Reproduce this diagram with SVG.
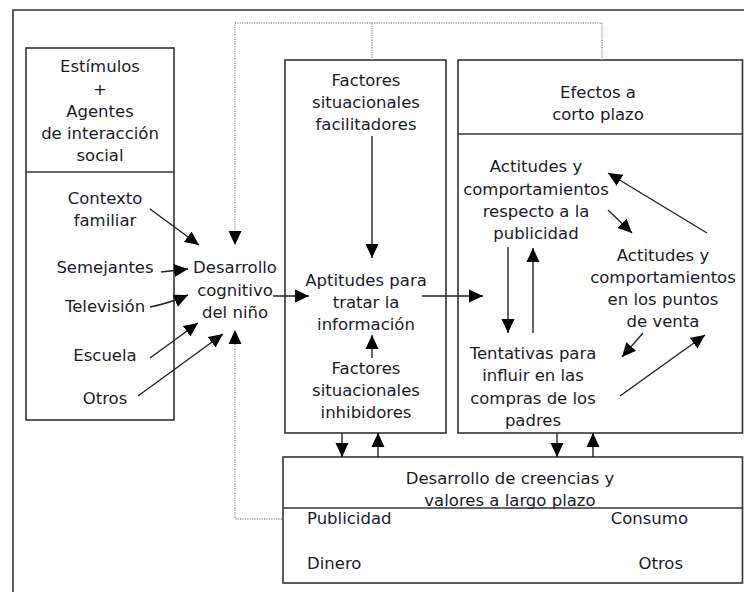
<svg xmlns="http://www.w3.org/2000/svg" width="744" height="592" viewBox="0 0 744 592">
<defs>
<marker id="ah" markerUnits="userSpaceOnUse" markerWidth="15" markerHeight="15" viewBox="0 0 15 15" refX="14" refY="7.5" orient="auto">
<path d="M0,1 L14,7.5 L0,14 Z" fill="#000"/>
</marker>
<style>
text{font-family:"DejaVu Sans","Liberation Sans",sans-serif;font-size:16.5px;fill:#1a1a2a;text-anchor:middle}
.l{text-anchor:start}.r{text-anchor:end}
.box{fill:none;stroke:#333;stroke-width:1.6}
.a{fill:none;stroke:#222;stroke-width:1.4;marker-end:url(#ah)}
.h{fill:none;stroke:none;marker-end:url(#ah)}
.d{fill:none;stroke:#999;stroke-width:1.4;stroke-dasharray:1.2 1.2}
</style>
</defs>
<rect width="744" height="592" fill="#fff"/>
<path d="M13,600 V10 H750" class="box"/>
<g id="estimulos">
<rect x="26" y="48" width="148" height="372" class="box"/>
<line x1="26" y1="172" x2="174" y2="172" class="box"/>
<text x="100" y="72">Estímulos</text>
<text x="100" y="95">+</text>
<text x="100" y="117">Agentes</text>
<text x="100" y="139">de interacción</text>
<text x="100" y="161">social</text>
<text x="105" y="204">Contexto</text>
<text x="105" y="226">familiar</text>
<text x="105" y="273">Semejantes</text>
<text x="105" y="312">Televisión</text>
<text x="105" y="361">Escuela</text>
<text x="105" y="404">Otros</text>
</g>
<g id="desarrollo-cognitivo">
<text x="235" y="273">Desarrollo</text>
<text x="235" y="296">cognitivo</text>
<text x="235" y="318">del niño</text>
</g>
<g id="factores">
<rect x="285" y="60" width="161" height="373" class="box"/>
<text x="366" y="86">Factores</text>
<text x="366" y="108">situacionales</text>
<text x="366" y="130">facilitadores</text>
<text x="366" y="286">Aptitudes para</text>
<text x="366" y="308">tratar la</text>
<text x="366" y="330">información</text>
<text x="366" y="374">Factores</text>
<text x="366" y="396">situacionales</text>
<text x="366" y="418">inhibidores</text>
</g>
<g id="efectos">
<rect x="458" y="60" width="284.5" height="373" class="box"/>
<line x1="458" y1="134" x2="742.5" y2="134" class="box"/>
<text x="598" y="98">Efectos a</text>
<text x="598" y="120">corto plazo</text>
<text x="536" y="172">Actitudes y</text>
<text x="536" y="195">comportamientos</text>
<text x="536" y="217">respecto a la</text>
<text x="536" y="239">publicidad</text>
<text x="663" y="261">Actitudes y</text>
<text x="663" y="283">comportamientos</text>
<text x="663" y="305">en los puntos</text>
<text x="663" y="327">de venta</text>
<text x="533" y="359">Tentativas para</text>
<text x="533" y="381">influir en las</text>
<text x="533" y="404">compras de los</text>
<text x="533" y="426">padres</text>
</g>
<g id="largo-plazo">
<rect x="283" y="457" width="459.5" height="126" class="box"/>
<line x1="283" y1="508" x2="742.5" y2="508" class="box"/>
<text x="510" y="484">Desarrollo de creencias y</text>
<text x="510" y="506">valores a largo plazo</text>
<text x="307" y="524" class="l">Publicidad</text>
<text x="688" y="524" class="r">Consumo</text>
<text x="307" y="569" class="l">Dinero</text>
<text x="683" y="569" class="r">Otros</text>
</g>
<g id="connectors">
<path d="M235,232 V23 H602 V60 M372,23 V60" class="d"/>
<path d="M235,344 V519 H283" class="d"/>
<line x1="235" y1="232" x2="235" y2="245" class="h"/>
<line x1="235" y1="344" x2="235" y2="330" class="h"/>
<line x1="150" y1="209" x2="199" y2="245" class="a"/>
<line x1="161" y1="272" x2="188" y2="269" class="a"/>
<path d="M150,307 Q170,303 188,295" class="a"/>
<line x1="150" y1="358" x2="198" y2="323" class="a"/>
<line x1="138" y1="396" x2="223" y2="334" class="a"/>
<line x1="273" y1="296" x2="309" y2="296" class="a"/>
<line x1="372" y1="136" x2="372" y2="258" class="a"/>
<line x1="372" y1="358" x2="372" y2="335" class="a"/>
<line x1="422" y1="296" x2="483" y2="296" class="a"/>
<line x1="508" y1="247" x2="508" y2="333" class="a"/>
<line x1="533" y1="333" x2="533" y2="248" class="a"/>
<line x1="707" y1="233" x2="608" y2="173" class="a"/>
<line x1="608" y1="210" x2="632" y2="233" class="a"/>
<line x1="643" y1="333" x2="622" y2="357" class="a"/>
<line x1="620" y1="396" x2="705" y2="335" class="a"/>
<line x1="342" y1="433" x2="342" y2="457" class="a"/>
<line x1="378" y1="457" x2="378" y2="433" class="a"/>
<line x1="557" y1="433" x2="557" y2="457" class="a"/>
<line x1="593" y1="457" x2="593" y2="433" class="a"/>
</g>
</svg>
